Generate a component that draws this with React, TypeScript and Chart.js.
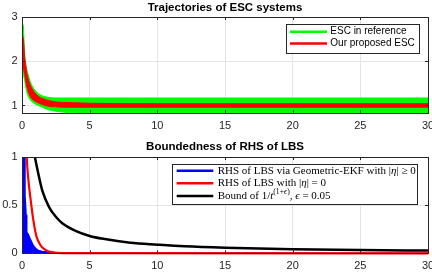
import React, { useEffect, useRef } from "react";
import { Chart, registerables } from "chart.js";
Chart.register(...registerables);

// ---------- data ----------
const xTicks = [0, 5, 10, 15, 20, 25, 30];
const topYTicks = [1, 2, 3];
const bottomYTicks = [0, 0.5, 1];
const topTitle = "Trajectories of ESC systems";
const bottomTitle = "Boundedness of RHS of LBS";
const topNames = ["ESC in reference", "Our proposed ESC"];

// envelopes of the oscillating ESC trajectories
const escTime = [0, 0.1, 0.15, 0.2, 0.3, 0.44, 0.6, 0.8, 1.0, 1.2, 1.5, 2.0, 2.5, 3.0, 4.0, 5.0, 10, 20, 30];
const refUpper = [2.85, 2.8, 2.45, 2.15, 1.9, 1.71, 1.55, 1.42, 1.33, 1.27, 1.22, 1.18, 1.17, 1.17, 1.17, 1.17, 1.17, 1.17, 1.17];
const refLower = [1.75, 1.7, 1.63, 1.56, 1.38, 1.22, 1.13, 1.07, 1.03, 1.0, 0.96, 0.9, 0.87, 0.85, 0.83, 0.82, 0.82, 0.82, 0.82];
const ourUpper = [2.6, 2.5, 2.3, 2.1, 1.85, 1.62, 1.47, 1.35, 1.27, 1.21, 1.16, 1.11, 1.08, 1.07, 1.06, 1.05, 1.04, 1.04, 1.04];
const ourLower = [1.95, 1.85, 1.78, 1.7, 1.5, 1.33, 1.21, 1.13, 1.09, 1.06, 1.02, 0.98, 0.97, 0.96, 0.96, 0.96, 0.96, 0.96, 0.96];

// RHS of LBS
const ekfTime = [0, 0.2, 0.22, 0.3, 0.35, 0.45, 0.6, 0.8, 1.0, 1.2, 1.5, 2.0, 2.5, 30];
const ekfVals = [1, 1, 0.6, 0.4, 0.22, 0.2, 0.15, 0.09, 0.05, 0.03, 0.02, 0.01, 0, 0];
const zeroTime = [0.35, 0.4, 0.5, 0.6, 0.69, 0.8, 0.9, 1.06, 1.3, 1.5, 1.8, 2.2, 3.0, 30];
const zeroVals = [1, 0.88, 0.72, 0.6, 0.5, 0.38, 0.29, 0.18, 0.1, 0.06, 0.03, 0.012, 0.002, 0];
const boundTime = [0.95, 1.2, 1.5, 2, 2.5, 3, 4, 5, 6, 8, 10, 12, 15, 20, 25, 30];
const boundVals = [1, 0.83, 0.65, 0.48, 0.38, 0.31, 0.23, 0.18, 0.15, 0.11, 0.09, 0.073, 0.058, 0.043, 0.034, 0.028];

type Seg = { t: string; i?: boolean; sup?: boolean };
const bottomNames: Seg[][] = [
  [{ t: "RHS of LBS via Geometric-EKF with |" }, { t: "η", i: true }, { t: "| ≥ 0" }],
  [{ t: "RHS of LBS with |" }, { t: "η", i: true }, { t: "| = 0" }],
  [
    { t: "Bound of 1/" }, { t: "t", i: true },
    { t: "(1+", sup: true }, { t: "ϵ", sup: true, i: true }, { t: ")", sup: true },
    { t: ", " }, { t: "ϵ", i: true }, { t: " = 0.05" },
  ],
];

const pts = (xs: number[], ys: number[]) => xs.map((x, k) => ({ x, y: ys[k] }));

const SANS = '"Liberation Sans", Arial, Helvetica, sans-serif';
const SERIF = '"Liberation Serif", "DejaVu Serif", serif';
const AXIS = "#262626";

const framePlugin = {
  id: "frame",
  afterDraw(chart: any, _args: any, opts: any) {
    const { ctx, chartArea: a } = chart;
    const xs = chart.scales.x, ys = chart.scales.y;
    ctx.save();
    ctx.strokeStyle = AXIS;
    ctx.lineWidth = 1;
    ctx.beginPath();
    for (const t of xTicks) {
      const px = Math.round(xs.getPixelForValue(t)) + 0.5;
      ctx.moveTo(px, a.top); ctx.lineTo(px, a.top + 3);
      ctx.moveTo(px, a.bottom); ctx.lineTo(px, a.bottom - 3);
    }
    for (const t of opts.yTicks) {
      const py = Math.round(ys.getPixelForValue(t)) + 0.5;
      ctx.moveTo(a.left, py); ctx.lineTo(a.left + 3, py);
      ctx.moveTo(a.right, py); ctx.lineTo(a.right - 3, py);
    }
    ctx.stroke();
    ctx.strokeRect(Math.round(a.left) + 0.5, Math.round(a.top) + 0.5, Math.round(a.right - a.left), Math.round(a.bottom - a.top));

    // title
    ctx.fillStyle = "#000";
    ctx.font = `bold 11.5px ${SANS}`;
    ctx.textAlign = "center";
    ctx.textBaseline = "middle";
    ctx.fillText(opts.title, (a.left + a.right) / 2, opts.titleY);

    // legend
    const L = opts.legend;
    const bx = a.right - L.rightInset - L.width;
    const by = a.top + L.topInset;
    ctx.fillStyle = "#fff";
    ctx.fillRect(bx, by, L.width, L.height);
    ctx.strokeStyle = AXIS;
    ctx.lineWidth = 1;
    ctx.strokeRect(Math.round(bx) + 0.5, Math.round(by) + 0.5, Math.round(L.width), Math.round(L.height));
    L.rows.forEach((row: any, k: number) => {
      const y = by + L.rowY[k];
      ctx.strokeStyle = row.color;
      ctx.lineWidth = 2.5;
      ctx.beginPath();
      ctx.moveTo(bx + L.lineX0, y);
      ctx.lineTo(bx + L.lineX1, y);
      ctx.stroke();
      ctx.fillStyle = "#000";
      ctx.textAlign = "left";
      ctx.textBaseline = "middle";
      let x = bx + L.textX;
      for (const s of row.segs as Seg[]) {
        const size = s.sup ? L.fontSize * 0.7 : L.fontSize;
        ctx.font = `${s.i ? "italic " : ""}${size}px ${L.family}`;
        ctx.fillText(s.t, x, s.sup ? y - L.fontSize * 0.35 : y);
        x += ctx.measureText(s.t).width;
      }
    });
    ctx.restore();
  },
};

function makeOptions(yMin: number, yMax: number, yTicks: number[], topPad: number, xHeight: number, frame: any) {
  return {
    responsive: false,
    animation: false as const,
    layout: { padding: { top: topPad, right: 4, left: 0, bottom: 0 } },
    plugins: { legend: { display: false }, tooltip: { enabled: false }, title: { display: false }, frame },
    elements: { point: { radius: 0 } },
    scales: {
      x: {
        type: "linear" as const,
        min: 0,
        max: 30,
        afterBuildTicks: (s: any) => { s.ticks = xTicks.map((v) => ({ value: v })); },
        afterFit: (s: any) => { s.height = xHeight; s.paddingLeft = 0; s.paddingRight = 0; },
        ticks: { color: AXIS, font: { size: 11, family: SANS }, padding: 6, maxRotation: 0 },
        grid: { color: "#e4e4e4", drawTicks: false },
        border: { display: false },
      },
      y: {
        type: "linear" as const,
        min: yMin,
        max: yMax,
        afterBuildTicks: (s: any) => { s.ticks = yTicks.map((v) => ({ value: v })); },
        afterFit: (s: any) => { s.width = 22; s.paddingTop = 0; s.paddingBottom = 0; },
        ticks: { color: AXIS, font: { size: 11, family: SANS }, padding: 4.5, callback: (v: any) => String(v) },
        grid: { color: "#e4e4e4", drawTicks: false },
        border: { display: false },
      },
    },
  };
}

function TopChart() {
  const ref = useRef<HTMLCanvasElement>(null);
  useEffect(() => {
    const line = { borderWidth: 1, pointRadius: 0, cubicInterpolationMode: "monotone" as const };
    const chart = new Chart(ref.current!, {
      type: "line",
      data: {
        datasets: [
          { ...line, label: topNames[1], data: pts(escTime, ourUpper), borderColor: "#ff0000", backgroundColor: "#ff0000", fill: false },
          { ...line, label: topNames[1], data: pts(escTime, ourLower), borderColor: "#ff0000", backgroundColor: "#ff0000", fill: "-1" },
          { ...line, label: topNames[0], data: pts(escTime, refUpper), borderColor: "#00ff00", backgroundColor: "#00ff00", fill: false },
          { ...line, label: topNames[0], data: pts(escTime, refLower), borderColor: "#00ff00", backgroundColor: "#00ff00", fill: "-1" },
        ],
      },
      options: makeOptions(0.83, 3, topYTicks, 17, 24, {
        title: topTitle,
        titleY: 8,
        yTicks: topYTicks,
        legend: {
          rightInset: 9.5, topInset: 7, width: 132.5, height: 28.5,
          rowY: [7.7, 19.4], lineX0: 4, lineX1: 41, textX: 44.3,
          fontSize: 10, family: SANS,
          rows: [
            { color: "#00ff00", segs: [{ t: topNames[0] }] },
            { color: "#ff0000", segs: [{ t: topNames[1] }] },
          ],
        },
      }) as any,
      plugins: [framePlugin as any],
    });
    return () => chart.destroy();
  }, []);
  return <canvas ref={ref} width={432} height={137} style={{ display: "block" }} />;
}

function BottomChart() {
  const ref = useRef<HTMLCanvasElement>(null);
  useEffect(() => {
    const chart = new Chart(ref.current!, {
      type: "line",
      data: {
        datasets: [
          { label: "bound", data: pts(boundTime, boundVals), borderColor: "#000000", borderWidth: 2.5, pointRadius: 0, cubicInterpolationMode: "monotone", fill: false, clip: { left: 0, top: 0, right: 0, bottom: 3 } as any },
          { label: "zero", data: pts(zeroTime, zeroVals), borderColor: "#ff0000", borderWidth: 2.2, pointRadius: 0, cubicInterpolationMode: "monotone", fill: false, clip: { left: 0, top: 0, right: 0, bottom: 3 } as any },
          { label: "ekf", data: pts(ekfTime, ekfVals), borderColor: "#0000ff", backgroundColor: "#0000ff", borderWidth: 1.5, pointRadius: 0, tension: 0, fill: "origin" },
        ],
      },
      options: makeOptions(0, 1, bottomYTicks, 20, 20.7, {
        title: bottomTitle,
        titleY: 10,
        yTicks: bottomYTicks,
        legend: {
          rightInset: 10.3, topInset: 6.7, width: 245.4, height: 40,
          rowY: [7, 19.5, 32.3], lineX0: 4.4, lineX1: 41, textX: 45.4,
          fontSize: 11, family: SERIF,
          rows: [
            { color: "#0000ff", segs: bottomNames[0] },
            { color: "#ff0000", segs: bottomNames[1] },
            { color: "#000000", segs: bottomNames[2] },
          ],
        },
      }) as any,
      plugins: [framePlugin as any],
    });
    return () => chart.destroy();
  }, []);
  return <canvas ref={ref} width={432} height={137} style={{ display: "block" }} />;
}

export default function App() {
  return (
    <div style={{ position: "fixed", left: 0, top: 0, width: 432, height: 274, background: "#fff" }}>
      <TopChart />
      <BottomChart />
    </div>
  );
}
